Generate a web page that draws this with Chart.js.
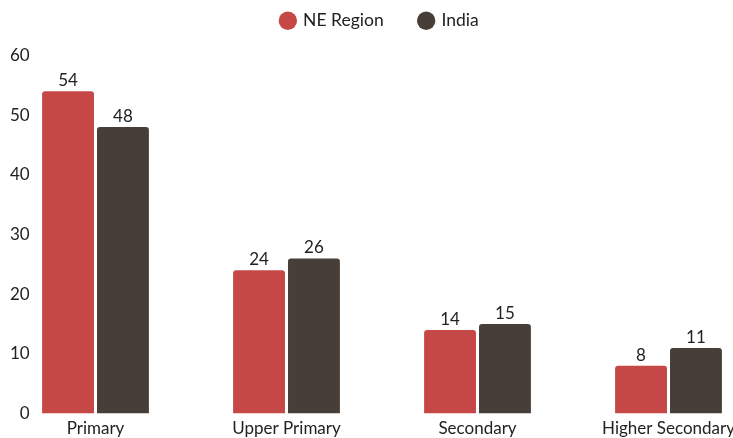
<!DOCTYPE html>
<html>
<head>
<meta charset="utf-8">
<script src="https://cdn.jsdelivr.net/npm/chart.js@4.4.0/dist/chart.umd.min.js"></script>
<style>
    html, body { margin: 0; padding: 0; background: #fff; overflow: hidden; }
    #wrap { position: relative; width: 764px; height: 438px; }
</style>
</head>
<body>
<div id="wrap"><canvas id="levelChart"></canvas></div>
<script>
const categories = ['Primary', 'Upper Primary', 'Secondary', 'Higher Secondary'];
const neRegion = [54, 24, 14, 8];
const india = [48, 26, 15, 11];
const seriesNames = ['NE Region', 'India'];
const yTicks = [0, 10, 20, 30, 40, 50, 60];

const textColor = '#222222';
Chart.defaults.font.family = 'Lato, "Open Sans", sans-serif';
Chart.defaults.font.size = 17;
Chart.defaults.color = textColor;

// draws the value above every bar
const valueLabels = {
    id: 'valueLabels',
    afterDatasetsDraw(chart) {
        const ctx = chart.ctx;
        ctx.save();
        ctx.font = '17px Lato, sans-serif';
        ctx.fillStyle = textColor;
        ctx.textAlign = 'center';
        ctx.textBaseline = 'alphabetic';
        chart.data.datasets.forEach((ds, i) => {
            chart.getDatasetMeta(i).data.forEach((bar, j) => {
                ctx.fillText(ds.data[j], bar.x, bar.y - 5);
            });
        });
        ctx.restore();
    }
};

// extra room between legend and plot, and nudge the legend left a bit
const legendTweak = {
    id: 'legendTweak',
    beforeInit(chart) {
        const origFit = chart.legend.fit;
        chart.legend.fit = function () {
            origFit.bind(chart.legend)();
            this.height += 16;
        };
    },
    afterLayout(chart) {
        chart.legend.right -= 4;
    }
};

const ctx = document.getElementById('levelChart').getContext('2d');
const chart = new Chart(ctx, {
    type: 'bar',
    data: {
        labels: categories,
        datasets: [{
            label: seriesNames[0],
            data: neRegion,
            backgroundColor: '#c64846',
            borderRadius: 3,
            categoryPercentage: 0.575,
            barPercentage: 0.945
        }, {
            label: seriesNames[1],
            data: india,
            backgroundColor: '#473e37',
            borderRadius: 3,
            categoryPercentage: 0.575,
            barPercentage: 0.945
        }]
    },
    options: {
        responsive: true,
        maintainAspectRatio: false,
        animation: false,
        layout: {
            padding: { top: -24, left: 0, right: 0, bottom: -6 }
        },
        scales: {
            x: {
                grid: { display: false, drawTicks: false, tickLength: 0 },
                border: { display: false },
                ticks: { padding: 5, color: textColor }
            },
            y: {
                min: 0,
                max: 60,
                afterBuildTicks: scale => {
                    scale.ticks = yTicks.map(v => ({ value: v }));
                },
                afterFit: scale => {
                    scale.width = 0;
                },
                grid: { display: false, drawTicks: false, tickLength: 0 },
                border: { display: false },
                ticks: { mirror: true, crossAlign: 'far', padding: 10, color: textColor }
            }
        },
        plugins: {
            legend: {
                position: 'top',
                labels: {
                    usePointStyle: true,
                    pointStyle: 'circle',
                    boxWidth: 13,
                    boxHeight: 13,
                    padding: 36,
                    color: textColor,
                    font: { size: 17.5 }
                }
            },
            tooltip: { enabled: false }
        }
    },
    plugins: [valueLabels, legendTweak]
});
</script>
</body>
</html>
